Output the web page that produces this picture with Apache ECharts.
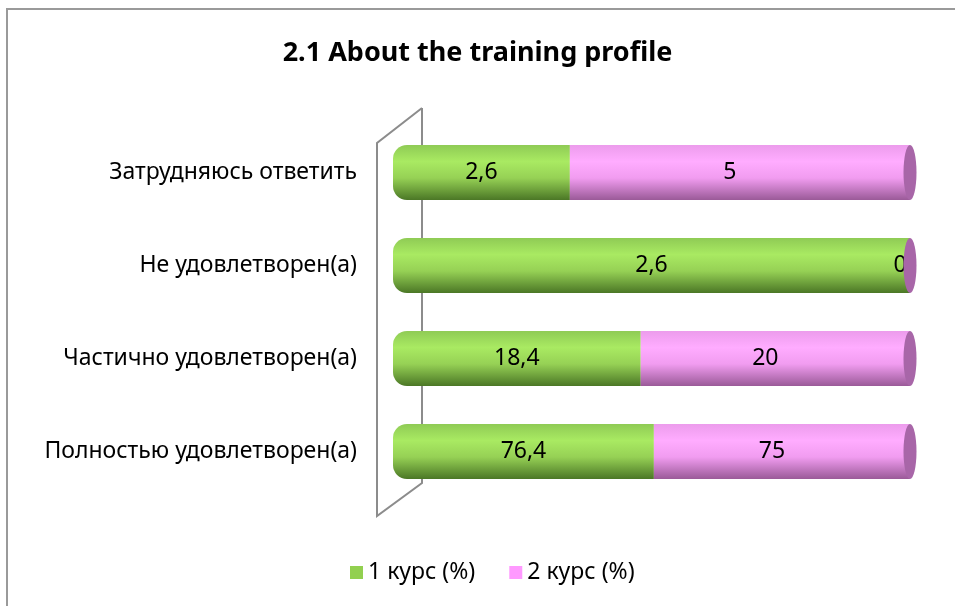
<!DOCTYPE html>
<html>
<head>
    <meta charset="utf-8">
    <title>2.1 About the training profile</title>
    <script src="https://cdn.jsdelivr.net/npm/echarts@6/dist/echarts.min.js"></script>
</head>
<body style="margin:0;">
    <div id="chart" style="width: 955px; height:606px;"></div>

    <script type="text/javascript">
        // rows bottom to top (category axis runs upward)
        var categories = ['Полностью удовлетворен(а)', 'Частично удовлетворен(а)', 'Не удовлетворен(а)', 'Затрудняюсь ответить'];
        var course1 = [76.4, 18.4, 2.6, 2.6];
        var course2 = [75, 20, 0, 5];
        var seriesNames = ['1 курс (%)', '2 курс (%)'];

        // 100% stacked: share of each row, raw value kept for the label
        function share(own, other) {
            return own.map(function (v, i) {
                var total = v + other[i];
                return { value: total ? v / total * 100 : 0, raw: v };
            });
        }
        var capData = categories.map(function () { return 100; });

        var font = 'Noto Sans';
        var fs = 23;
        function fmt(p) { return String(p.data.raw).replace('.', ','); }

        var chart = echarts.init(document.getElementById('chart'));
        chart.setOption({
            backgroundColor: '#fff',
            animation: false,
            title: {
                text: '2.1 About the training profile',
                left: 'center',
                top: 35,
                textStyle: { fontFamily: font, fontSize: 27, fontWeight: 'bold', color: '#000' }
            },
            legend: {
                data: [
                    { name: seriesNames[0], itemStyle: { color: '#92d050' } },
                    { name: seriesNames[1], itemStyle: { color: '#ff99ff' } }
                ],
                bottom: 17,
                left: 345,
                icon: 'rect',
                itemWidth: 13,
                itemHeight: 13,
                itemGap: 34,
                textStyle: { fontFamily: font, fontSize: fs, color: '#000' }
            },
            grid: { left: 393, right: 45, top: 126, bottom: 108 },
            xAxis: {
                type: 'value', min: 0, max: 100,
                show: false
            },
            yAxis: {
                type: 'category',
                data: categories,
                axisLine: { show: false },
                axisTick: { show: false },
                axisLabel: { margin: 36, fontFamily: font, fontSize: fs, color: '#000' }
            },
            graphic: [
                { type: 'rect', shape: { x: 7, y: 9, width: 1000, height: 700 },
                  style: { fill: 'none', stroke: '#9a9a9a', lineWidth: 2 }, silent: true },
                { type: 'polyline', shape: { points: [[422, 108], [422, 483], [377, 516], [377, 143], [422, 108]] },
                  style: { fill: 'none', stroke: '#8c8c8c', lineWidth: 2 }, z: -1, silent: true }
            ],
            series: [
                {
                    name: seriesNames[0], type: 'bar', stack: 'all', barWidth: 55,
                    data: share(course1, course2),
                    itemStyle: {
                        borderRadius: [14, 0, 0, 14],
                        color: new echarts.graphic.LinearGradient(0, 0, 0, 1, [
                            { offset: 0, color: '#8fcb55' },
                            { offset: 0.3, color: '#a9ea62' },
                            { offset: 0.6, color: '#96d155' },
                            { offset: 1, color: '#4b7726' }
                        ])
                    },
                    label: { show: true, position: 'inside', formatter: fmt,
                             fontFamily: font, fontSize: fs, color: '#000' }
                },
                {
                    name: seriesNames[1], type: 'bar', stack: 'all', barWidth: 55,
                    data: share(course2, course1),
                    itemStyle: {
                        color: new echarts.graphic.LinearGradient(0, 0, 0, 1, [
                            { offset: 0, color: '#ec9cec' },
                            { offset: 0.3, color: '#ffacff' },
                            { offset: 0.6, color: '#f19cf0' },
                            { offset: 1, color: '#9a5a98' }
                        ])
                    },
                    label: { show: true, position: 'inside', formatter: fmt,
                             fontFamily: font, fontSize: fs, color: '#000', offset: [-10, 0] }
                },
                {
                    name: 'cap', type: 'scatter', data: capData,
                    symbol: 'circle', symbolSize: [13, 55],
                    itemStyle: { color: '#a866a8', opacity: 1 },
                    z: 3, silent: true
                }
            ]
        });
    </script>
</body>
</html>
